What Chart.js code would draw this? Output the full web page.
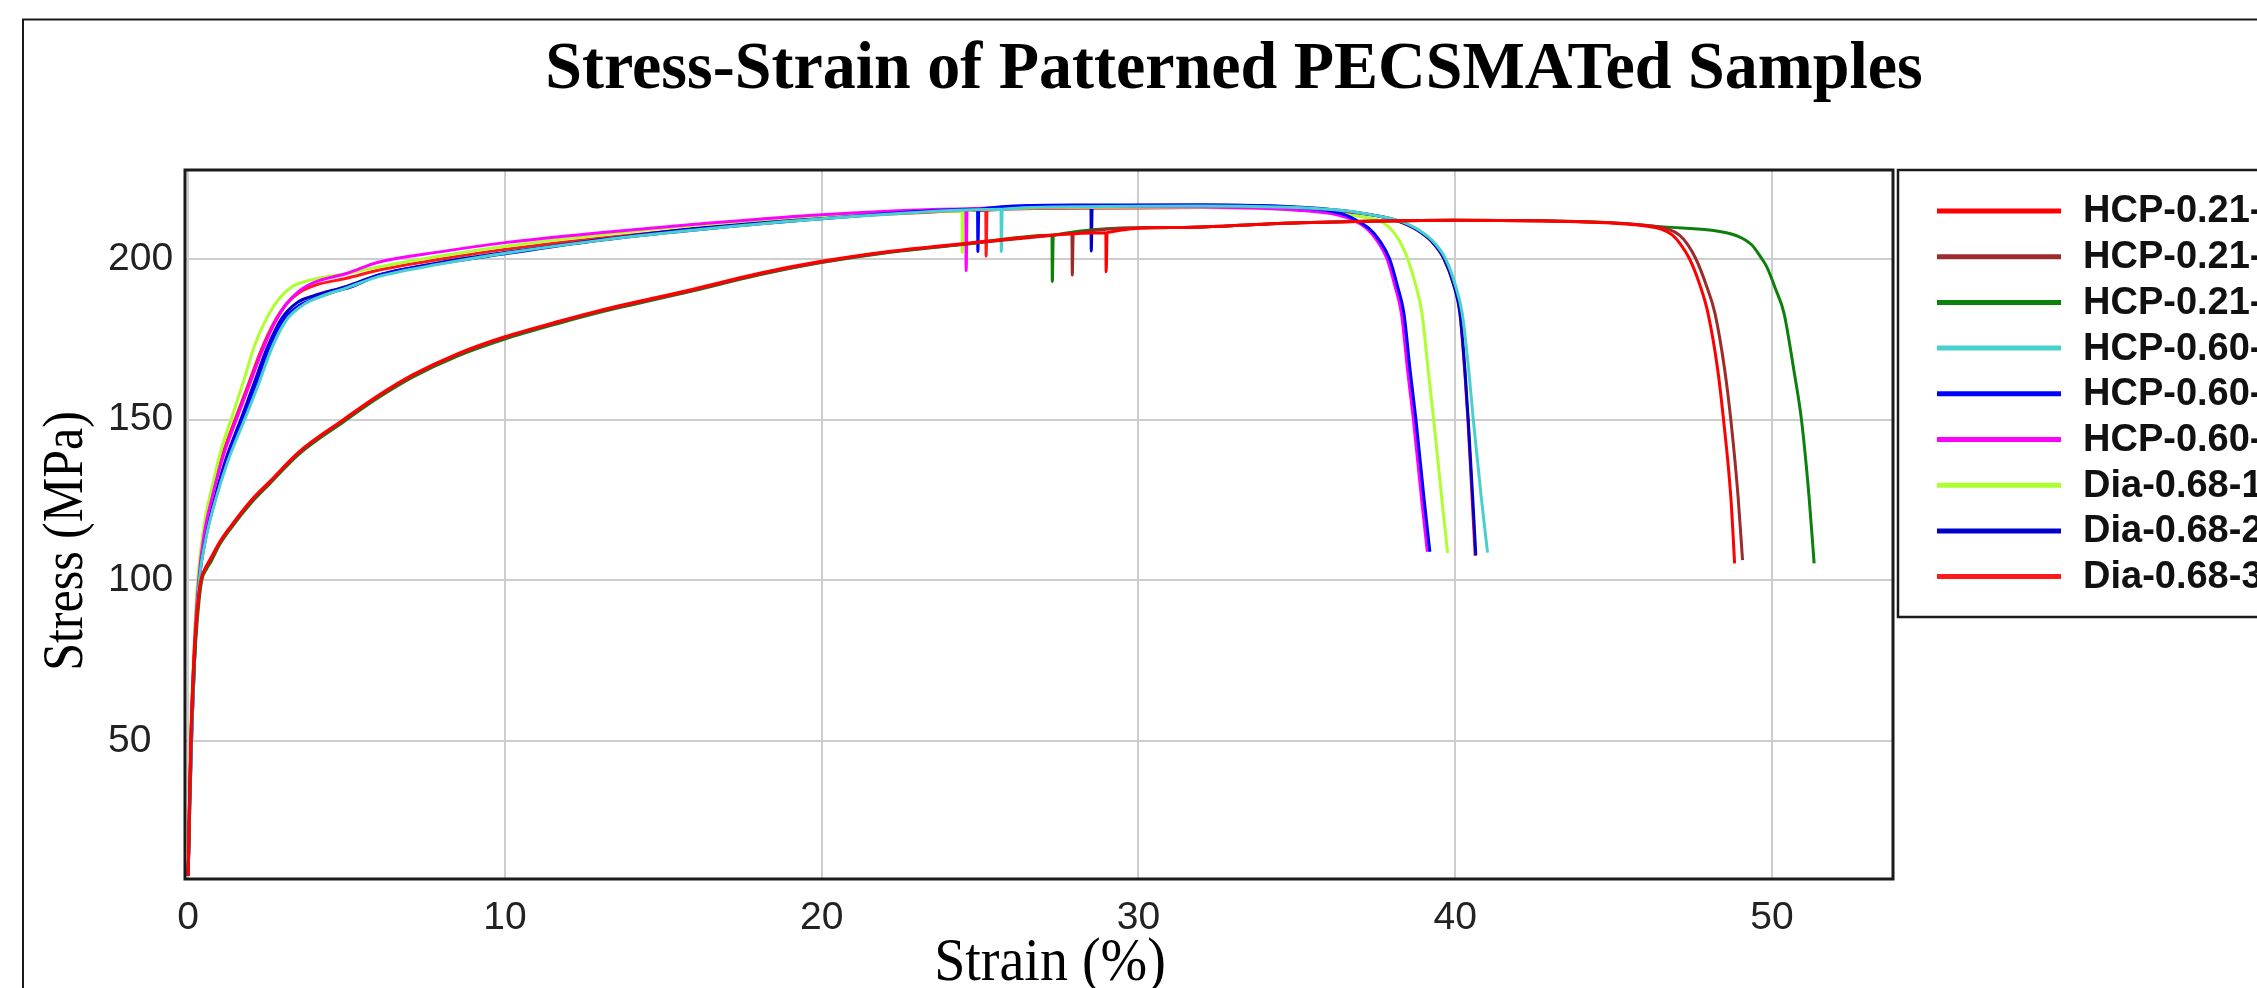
<!DOCTYPE html>
<html>
<head>
<meta charset="utf-8">
<title>Stress-Strain of Patterned PECSMATed Samples</title>
<script src="https://cdn.jsdelivr.net/npm/chart.js@4.4.1/dist/chart.umd.min.js"></script>
<style>
  html, body { margin: 0; padding: 0; background: #fff; overflow: hidden; }
  canvas { display: block; }
</style>
</head>
<body>
<canvas id="stress_strain" width="2257" height="988"></canvas>
<script>

// series names and line colours, in legend order
const seriesLabels = [
    "HCP-0.21-1", "HCP-0.21-2", "HCP-0.21-3",
    "HCP-0.60-1", "HCP-0.60-2", "HCP-0.60-3",
    "Dia-0.68-1", "Dia-0.68-2", "Dia-0.68-3"
];
const seriesColors = [
    "#ff0000", "#9e2b2b", "#0b800b",
    "#48d1cc", "#0000ff", "#ff00ff",
    "#adff2f", "#0000cd", "#ff1a1a"
];

// [strain %, stress MPa]
const hcp021_1 = [[0,8],[0.05,35],[0.1,55],[0.18,75],[0.28,90],[0.4,100],[0.55,104],[0.69,106.5],[1.0,112],[1.32,116.5],[2.0,125],[2.58,130.8],[3.5,140],[4.9,150],[6.0,157.5],[7.1,164],[8.5,170.5],[10.0,175.8],[11.74,180.7],[13.0,184],[15.94,190.6],[18.0,195.5],[19.94,199.2],[22.0,202.2],[24.36,204.7],[27.31,207.5],[28.97,208.2],[28.98,196],[29.01,208.2],[31.0,209.8],[35.1,211.3],[39.9,212.1],[44.75,211.3],[46.0,210.3],[46.5,209.3],[46.85,207.5],[47.12,204.5],[47.4,200],[47.72,192],[47.98,183.1],[48.28,166],[48.47,150],[48.7,126],[48.82,105.3]];
const hcp021_2 = [[0,8],[0.05,34],[0.1,54],[0.18,74],[0.28,89],[0.41,100],[0.56,103.8],[0.7,106.2],[1.0,111.7],[1.32,116.2],[2.0,124.7],[2.58,130.5],[3.5,139.7],[4.9,149.7],[6.0,157.2],[7.1,163.7],[8.5,170.2],[10.0,175.5],[11.74,180.4],[13.0,183.7],[15.94,190.3],[18.0,195.2],[19.94,198.9],[22.0,202],[24.36,204.5],[27.31,207.4],[27.9,207.9],[27.91,195],[27.94,207.9],[31.0,209.8],[35.1,211.3],[39.9,212.1],[44.75,211.4],[46.2,210.3],[46.72,209.3],[47.07,207.5],[47.34,204.5],[47.6,200],[47.92,192],[48.2,183.1],[48.5,166],[48.7,150],[48.93,126],[49.07,106.3]];
const hcp021_3 = [[0,8],[0.05,33],[0.1,53],[0.19,73],[0.3,89],[0.43,100],[0.58,103.5],[0.72,105.8],[1.0,111.2],[1.32,115.8],[2.0,124.2],[2.58,130.1],[3.5,139.3],[4.9,149.3],[6.0,156.8],[7.1,163.3],[8.5,169.8],[10.0,175.1],[11.74,180.1],[13.0,183.4],[15.94,190.1],[18.0,195],[19.94,198.8],[22.0,201.9],[24.36,204.4],[27.27,207.4],[27.28,193],[27.31,207.4],[31.0,209.8],[35.1,211.3],[39.9,212.1],[44.75,211.4],[46.58,210],[48.39,208.5],[48.95,207],[49.35,204.5],[49.65,200.5],[49.84,197.5],[50.1,191],[50.38,183.1],[50.68,166],[50.93,150],[51.17,126],[51.33,105.3]];
const hcp060_1 = [[0,8],[0.05,30],[0.12,55],[0.22,80],[0.35,100],[0.55,112.5],[0.85,124.5],[1.25,137],[1.8,150.5],[2.2,160.5],[2.65,172.5],[3.1,181],[3.6,185.5],[4.1,188],[5.0,191],[6.0,194.5],[8.0,198.5],[10.0,201.8],[13.0,205.8],[16.0,209],[20.0,212.5],[25.66,215.5],[25.67,202.3],[25.7,215.5],[28.0,216.3],[32.0,216.5],[35.0,216],[36.5,215],[37.5,213.5],[38.2,212],[38.85,209],[39.35,205],[39.7,200],[40.0,192],[40.22,183.1],[40.42,166],[40.57,150],[40.82,126],[41.02,108.6]];
const hcp060_2 = [[0,8],[0.05,30],[0.12,55],[0.22,80],[0.35,100],[0.55,113],[0.85,125],[1.2,137],[1.73,150.5],[2.1,160],[2.58,173],[3.0,181],[3.5,185.5],[3.95,187.5],[4.5,189.5],[5.2,191.5],[6.05,195.1],[8.0,198.7],[10.0,201.6],[13.0,205.8],[16.0,209],[20.0,212.5],[24.92,215.5],[24.93,202.3],[24.96,215.5],[28.0,216.8],[32.0,216.8],[35.0,216],[36.35,214.3],[36.85,212.2],[37.28,209.5],[37.63,205.5],[37.93,200],[38.18,191.5],[38.38,183.1],[38.58,165],[38.76,150],[39.01,126],[39.2,108.9]];
const hcp060_3 = [[0,8],[0.04,30],[0.1,55],[0.2,80],[0.33,100],[0.5,114],[0.8,127.5],[1.1,138.5],[1.5,149.5],[1.9,160],[2.3,170.5],[2.7,179.5],[3.1,186],[3.5,190],[4.0,192.8],[5.0,195.5],[6.0,199],[8.0,202.3],[10.0,205.1],[13.0,208.2],[16.0,210.8],[20.0,213.8],[24.55,215.6],[24.56,196.4],[24.59,215.6],[28.0,216.3],[32.0,216.2],[35.0,215.2],[36.3,213.7],[36.8,212],[37.2,209.5],[37.55,205.5],[37.85,200],[38.1,191.5],[38.3,183.1],[38.5,165],[38.68,150],[38.93,126],[39.12,108.9]];
const dia068_1 = [[0,8],[0.04,32],[0.1,58],[0.2,83],[0.3,100],[0.5,117],[0.8,131],[1.05,141],[1.37,150.5],[1.75,162],[2.11,173.5],[2.5,182],[2.9,188],[3.3,191.5],[3.8,193.3],[5.0,195.5],[6.0,197.5],[8.0,201],[10.0,204],[13.0,207.5],[16.0,210.5],[20.0,213.5],[24.43,215],[24.44,202],[24.47,215],[28.0,216],[32.0,216],[35.0,215.3],[36.0,214.5],[37.0,213.2],[37.5,212.3],[37.95,209.5],[38.25,205.5],[38.5,200],[38.75,192],[38.95,183.1],[39.15,165],[39.32,150],[39.57,126],[39.76,108.5]];
const dia068_2 = [[0,8],[0.05,30],[0.12,55],[0.22,80],[0.34,100],[0.55,113.5],[0.85,126],[1.2,138],[1.68,150.5],[2.05,160.5],[2.5,172.5],[2.95,181.5],[3.45,186.5],[3.95,188.5],[5.0,191.5],[6.05,195.1],[8.0,199],[10.0,202],[13.0,206],[16.0,209.5],[20.0,213],[24.0,215.3],[28.5,216.5],[28.51,202.5],[28.54,216.5],[32.0,216.8],[35.0,216.2],[36.5,215],[37.5,213.5],[38.12,212.1],[38.8,209],[39.3,205],[39.65,200],[39.95,192],[40.15,183.1],[40.31,165],[40.41,150],[40.55,126],[40.65,107.8]];
const dia068_3 = [[0,8],[0.04,30],[0.1,55],[0.2,80],[0.32,100],[0.5,115],[0.8,128.5],[1.1,139.5],[1.5,150.5],[1.9,161],[2.3,171.5],[2.7,180],[3.1,186],[3.5,189.5],[4.0,191.8],[5.0,194],[6.0,196.5],[8.0,200],[10.0,203],[13.0,206.5],[16.0,209.5],[20.0,212.8],[23.0,214.4],[25.18,215.2],[25.19,200.9],[25.22,215.2],[28.0,215.8],[32.0,216],[35.0,215.6],[36.5,214.6],[37.5,213.5],[38.1,212.1],[38.8,209],[39.3,205],[39.65,200],[39.95,192],[40.15,183.1],[40.3,165],[40.4,150],[40.53,126],[40.63,107.6]];

const seriesData = [hcp021_1, hcp021_2, hcp021_3, hcp060_1, hcp060_2, hcp060_3, dia068_1, dia068_2, dia068_3];

const xTicks = [0, 10, 20, 30, 40, 50];
const yTicks = [50, 100, 150, 200];

const chartTitle = "Stress-Strain of Patterned PECSMATed Samples";
const xTitle = "Strain (%)";
const yTitle = "Stress (MPa)";

const serif = '"Liberation Serif", "Times New Roman", serif';
const sans = '"Liberation Sans", Arial, sans-serif';

// text in the figure is a little taller than wide, so stretch it vertically
function stretchedText(c, text, x, y, font, sy) {
    c.save();
    c.translate(x, y);
    c.scale(1, sy);
    c.font = font;
    c.fillText(text, 0, 0);
    c.restore();
}

// frame, titles, plot border and the boxed legend
const decorations = {
    id: "decorations",
    beforeDraw(chart) {
        const c = chart.ctx;
        c.save();
        c.fillStyle = "#fff";
        c.fillRect(0, 0, chart.width, chart.height);
        c.strokeStyle = "#1a1a1a";
        c.lineWidth = 2;
        c.strokeRect(23, 19.5, 3000, 3000);

        c.fillStyle = "#000";
        c.textAlign = "center";
        c.textBaseline = "alphabetic";
        stretchedText(c, chartTitle, 1234, 88, "bold 66px " + serif, 1.04);
        stretchedText(c, xTitle, 1050, 980, "56px " + serif, 1.1);

        c.translate(82, 541);
        c.rotate(-Math.PI / 2);
        stretchedText(c, yTitle, 0, 0, "50px " + serif, 1.12);
        c.restore();
    },
    afterDraw(chart) {
        const c = chart.ctx;
        const a = chart.chartArea;
        c.save();
        c.strokeStyle = "#1a1a1a";
        c.lineWidth = 3;
        c.strokeRect(a.left, a.top, a.right - a.left, a.bottom - a.top);

        c.lineWidth = 2.5;
        c.strokeRect(1898, 170, 600, 447);

        c.font = "bold 38px " + sans;
        c.textAlign = "left";
        c.textBaseline = "middle";
        chart.data.datasets.forEach((ds, i) => {
            const y = 211 + i * 45.7;
            c.strokeStyle = ds.borderColor;
            c.lineWidth = 5;
            c.beginPath();
            c.moveTo(1937, y);
            c.lineTo(2061, y);
            c.stroke();
            c.fillStyle = "#111";
            c.fillText(ds.label, 2083, y + 1);
        });
        c.restore();
    }
};

const config_stress = {
    type: "line",
    data: {
        datasets: seriesLabels.map((name, i) => ({
            label: name,
            data: seriesData[i],
            borderColor: seriesColors[i],
            backgroundColor: seriesColors[i],
            borderWidth: 3,
            pointRadius: 0,
            cubicInterpolationMode: "monotone",
            fill: false
        }))
    },
    options: {
        responsive: false,
        animation: false,
        devicePixelRatio: 1,
        layout: { padding: { left: 108, right: 364, top: 170, bottom: 0 } },
        plugins: {
            legend: { display: false },
            title: { display: false },
            tooltip: { enabled: false }
        },
        scales: {
            x: {
                type: "linear",
                min: -0.1,
                max: 53.82,
                afterBuildTicks: s => { s.ticks = xTicks.map(v => ({ value: v })); },
                afterFit: s => { s.height = 109; },
                ticks: { color: "#222", padding: 16, maxRotation: 0, font: { family: sans, size: 39 } },
                grid: { color: "#cdcdcd", lineWidth: 2, drawTicks: false },
                border: { display: false }
            },
            y: {
                type: "linear",
                min: 7.05,
                max: 227.7,
                afterBuildTicks: s => { s.ticks = yTicks.map(v => ({ value: v })); },
                afterFit: s => { s.width = 77; },
                ticks: { color: "#222", crossAlign: "far", font: { family: sans, size: 39 } },
                grid: { color: "#cdcdcd", lineWidth: 2, drawTicks: false },
                border: { display: false }
            }
        }
    },
    plugins: [decorations]
};

const ctx_stress = document.getElementById("stress_strain").getContext("2d");

const myChart_stress = new Chart(ctx_stress, config_stress);

</script>
</body>
</html>
